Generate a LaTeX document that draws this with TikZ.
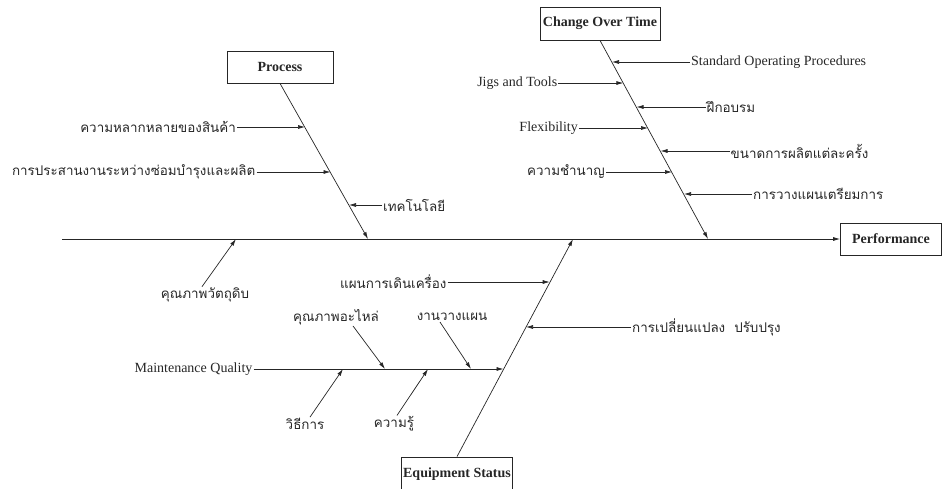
\documentclass[tikz,border=0pt]{standalone}
\usepackage{fontspec}
\setmainfont{Liberation Serif}
\newfontfamily\thaifont[Script=Thai]{Loma}
\usepackage{tikz}
\usetikzlibrary{arrows.meta,positioning,calc}
\tikzset{
  catbox/.style={draw, line width=0.8pt, align=center, inner sep=2pt, font=\fontsize{14}{16}\selectfont\bfseries},
  line/.style={-{Latex[length=7pt,width=4pt]}, line width=0.7pt},
  en/.style={inner sep=1pt, font=\fontsize{14}{16}\selectfont},
  th/.style={inner sep=1pt, font=\fontsize{13.4}{16}\thaifont}
}

\begin{document}
\begin{tikzpicture}[x=1pt, y=-1pt, black!85]
  \useasboundingbox (0,0) rectangle (942,488);
  % head and spine
  \node[catbox, minimum width=101pt, minimum height=32pt] (perf) at (891,239) {Performance};
  \coordinate (tail) at (62,239);
  \draw[line] (tail) -- (perf);
  % main categories
  \node[catbox, minimum width=106pt, minimum height=32pt] (proc) at (280,67) {Process};
  \node[catbox, minimum width=120pt, minimum height=33pt] (cot) at (600,23.5) {Change Over Time};
  \node[catbox, minimum width=110pt, minimum height=34pt] (equip) at (457,474) {Equipment Status};
  \coordinate (procS) at (368,239);
  \coordinate (cotS) at (708,239);
  \coordinate (equipS) at (573,239);
  \coordinate (rawS) at (236,239);
  \draw[line] (proc.south) -- (procS);
  \draw[line] (cot.south) -- (cotS);
  \draw[line] (equip.north) -- (equipS);

  % process causes
  \coordinate (p1b) at (305,127);
  \coordinate (p2b) at (330.5,172);
  \coordinate (p3b) at (349,205);
  \node[th, left=68pt of p1b] (p1) {ความหลากหลายของสินค้า};
  \node[th, left=74pt of p2b] (p2) {การประสานงานระหว่างซ่อมบำรุงและผลิต};
  \node[th, right=33pt of p3b] (p3) {เทคโนโลยี};
  \draw[line] (p1) -- (p1b);
  \draw[line] (p2) -- (p2b);
  \draw[line] (p3) -- (p3b);

  % change over time causes
  \coordinate (c1b) at (612,62);
  \coordinate (c2b) at (623.4,83);
  \coordinate (c3b) at (636.5,107);
  \coordinate (c4b) at (648,128);
  \coordinate (c5b) at (660.5,151);
  \coordinate (c6b) at (672,172);
  \coordinate (c7b) at (684,194);
  \node[en, right=78pt of c1b] (c1) {Standard Operating Procedures};
  \node[en, left=65pt of c2b] (c2) {Jigs and Tools};
  \node[th, right=69pt of c3b] (c3) {ฝึกอบรม};
  \node[en, left=69pt of c4b] (c4) {Flexibility};
  \node[th, right=69pt of c5b] (c5) {ขนาดการผลิตแต่ละครั้ง};
  \node[th, left=66pt of c6b] (c6) {ความชำนาญ};
  \node[th, right=68pt of c7b] (c7) {การวางแผนเตรียมการ};
  \draw[line] (c1) -- (c1b);
  \draw[line] (c2) -- (c2b);
  \draw[line] (c3) -- (c3b);
  \draw[line] (c4) -- (c4b);
  \draw[line] (c5) -- (c5b);
  \draw[line] (c6) -- (c6b);
  \draw[line] (c7) -- (c7b);

  % equipment causes
  \coordinate (e1b) at (549.7,282);
  \coordinate (e2b) at (526,327);
  \coordinate (mqb) at (503.6,369);
  \node[th, left=102pt of e1b] (e1) {แผนการเดินเครื่อง};
  \node[th, right=105pt of e2b] (e2) {การเปลี่ยนแปลง\ \ ปรับปรุง};
  \node[en, left=250pt of mqb] (mq) {Maintenance Quality};
  \draw[line] (e1) -- (e1b);
  \draw[line] (e2) -- (e2b);
  \draw[line] (mq) -- (mqb);

  % maintenance quality
  \coordinate (m1b) at (385,369);
  \coordinate (m2b) at (471,369);
  \coordinate (m3b) at (343,369);
  \coordinate (m4b) at (428,369);
  \node[th] (m1) at (336,317) {คุณภาพอะไหล่};
  \node[th] (m2) at (452,317) {งานวางแผน};
  \node[th] (m3) at (305,424) {วิธีการ};
  \node[th] (m4) at (394,424) {ความรู้};
  \draw[line] ([xshift=17pt]m1.south) -- (m1b);
  \draw[line] ([xshift=-12pt]m2.south) -- (m2b);
  \draw[line] ([xshift=5pt]m3.north) -- (m3b);
  \draw[line] ([xshift=3pt]m4.north) -- (m4b);

  % raw material
  \node[th] (raw) at (205,295) {คุณภาพวัตถุดิบ};
  \draw[line] ([xshift=-3pt]raw.north) -- (rawS);
\end{tikzpicture}
\end{document}
